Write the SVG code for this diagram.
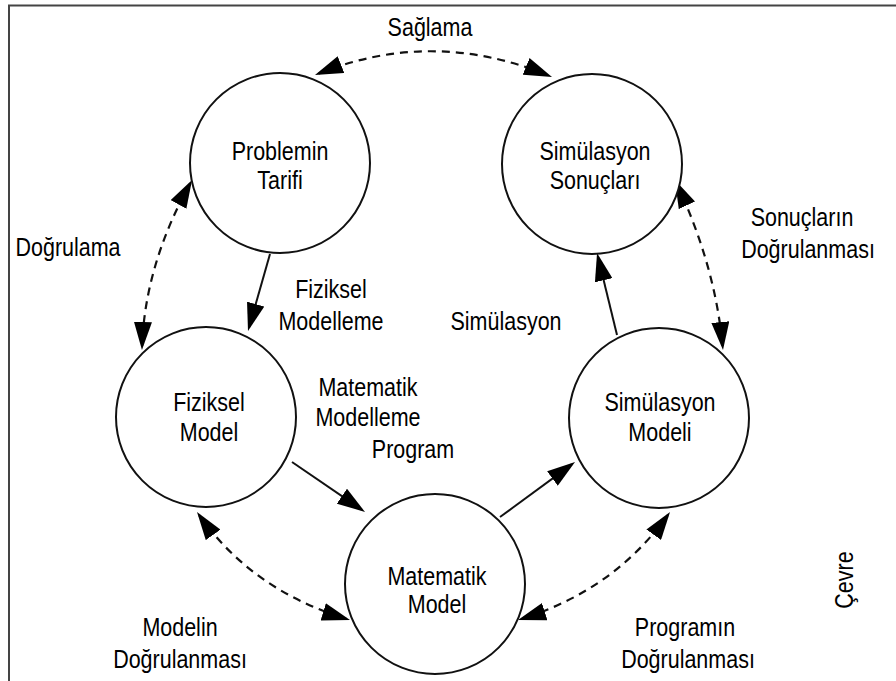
<svg xmlns="http://www.w3.org/2000/svg" width="896" height="681" viewBox="0 0 896 681">
<style>
.bg{fill:#ffffff}
.frame{stroke:#444;stroke-width:2;fill:none}
.node{fill:#ffffff;stroke:#111;stroke-width:2}
.t{font-family:"Liberation Sans",Arial,sans-serif;font-size:25px;fill:#000;text-anchor:middle}
.solid{fill:none;stroke:#111;stroke-width:2;marker-end:url(#ah)}
.dash{fill:none;stroke:#111;stroke-width:2.2;stroke-dasharray:8 6;marker-start:url(#ah);marker-end:url(#ah)}
</style>
<defs>
<marker id="ah" viewBox="0 0 28 18" refX="24" refY="9" markerWidth="28" markerHeight="18" markerUnits="userSpaceOnUse" orient="auto-start-reverse">
<path d="M0,0 L28,9 L0,18 z" fill="#000"/>
</marker>
</defs>
<rect class="bg" x="0" y="0" width="896" height="681"/>
<path class="frame" d="M9,681 V5.5 H896"/>

<g id="connectors">
<path class="solid" d="M270,254 L249.1,327.2"/>
<path class="solid" d="M292,462 L361.7,509.7"/>
<path class="solid" d="M500,517 L571.8,464.4"/>
<path class="solid" d="M617,335 L598,256.9"/>
<path class="dash" d="M318.7,73.5 Q433,28 548.3,75.5"/>
<path class="dash" d="M190.1,183.5 Q145,265 142.1,346"/>
<path class="dash" d="M676.7,183.6 Q715,265 722.6,346"/>
<path class="dash" d="M199.3,515.3 Q252,590 346.2,618.8"/>
<path class="dash" d="M667.7,515.2 Q614,590 521.8,618.8"/>
</g>

<g id="problemin-tarifi">
<circle class="node" cx="280" cy="163" r="90"/>
<text class="t" transform="translate(280,160) scale(0.86,1)">Problemin</text>
<text class="t" transform="translate(280,189) scale(0.86,1)">Tarifi</text>
</g>
<g id="simulasyon-sonuclari">
<circle class="node" cx="592" cy="164" r="90"/>
<text class="t" transform="translate(595,160) scale(0.86,1)">Simülasyon</text>
<text class="t" transform="translate(595,189) scale(0.86,1)">Sonuçları</text>
</g>
<g id="fiziksel-model">
<circle class="node" cx="206" cy="417" r="90"/>
<text class="t" transform="translate(209,411) scale(0.86,1)">Fiziksel</text>
<text class="t" transform="translate(209,441) scale(0.86,1)">Model</text>
</g>
<g id="simulasyon-modeli">
<circle class="node" cx="659" cy="418" r="90"/>
<text class="t" transform="translate(660,411) scale(0.86,1)">Simülasyon</text>
<text class="t" transform="translate(660,441) scale(0.86,1)">Modeli</text>
</g>
<g id="matematik-model">
<circle class="node" cx="435" cy="584" r="90"/>
<text class="t" transform="translate(437,585) scale(0.86,1)">Matematik</text>
<text class="t" transform="translate(437,613) scale(0.86,1)">Model</text>
</g>

<g id="labels">
<text class="t" transform="translate(430,36) scale(0.86,1)">Sağlama</text>
<text class="t" transform="translate(68,256) scale(0.86,1)">Doğrulama</text>
<text class="t" transform="translate(802,226) scale(0.86,1)">Sonuçların</text>
<text class="t" transform="translate(808,258) scale(0.86,1)">Doğrulanması</text>
<text class="t" transform="translate(331,298) scale(0.86,1)">Fiziksel</text>
<text class="t" transform="translate(331,330) scale(0.86,1)">Modelleme</text>
<text class="t" transform="translate(506,330) scale(0.86,1)">Simülasyon</text>
<text class="t" transform="translate(368,396) scale(0.86,1)">Matematik</text>
<text class="t" transform="translate(368,426) scale(0.86,1)">Modelleme</text>
<text class="t" transform="translate(413,458) scale(0.86,1)">Program</text>
<text class="t" transform="translate(180,636) scale(0.86,1)">Modelin</text>
<text class="t" transform="translate(180,668) scale(0.86,1)">Doğrulanması</text>
<text class="t" transform="translate(685,636) scale(0.86,1)">Programın</text>
<text class="t" transform="translate(688,668) scale(0.86,1)">Doğrulanması</text>
<text class="t" transform="translate(853,580) rotate(-90) scale(0.86,1)">Çevre</text>
</g>
</svg>
